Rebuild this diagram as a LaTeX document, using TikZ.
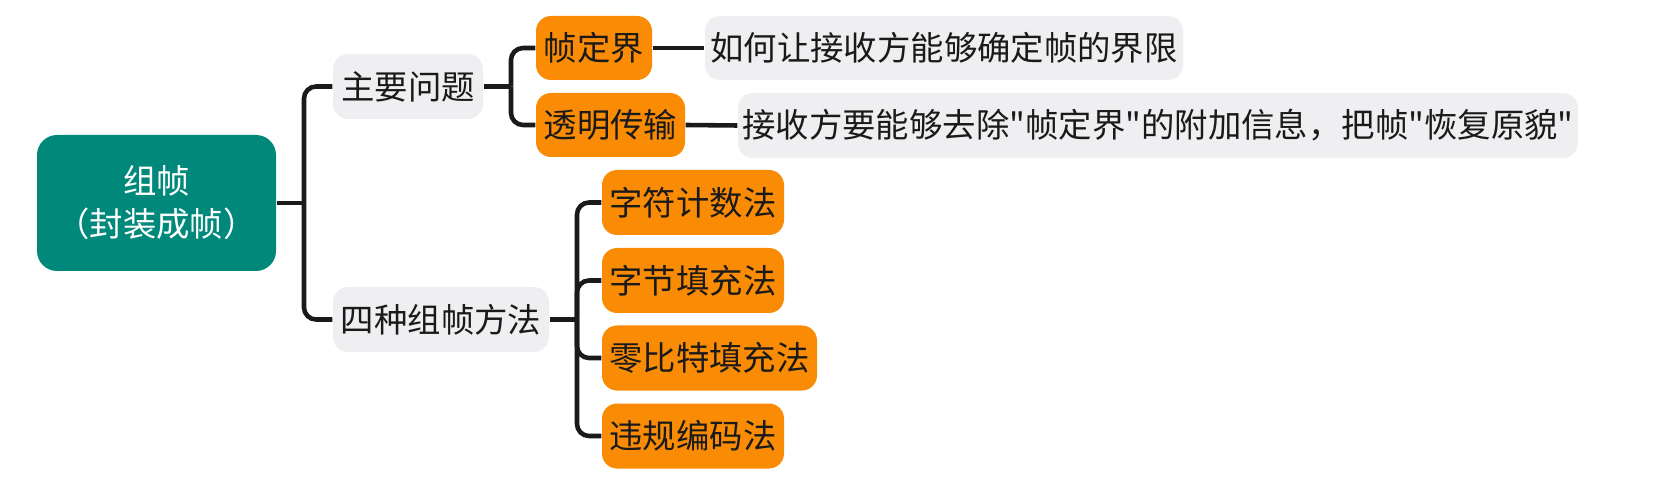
\documentclass[tikz,border=0pt]{standalone}
\usepackage{fontspec}
\setmainfont{Noto Sans CJK SC}[Ligatures=TeXOff]
\definecolor{ink}{HTML}{1A1A1A}
\definecolor{tealbox}{HTML}{00897A}
\definecolor{orangebox}{HTML}{FA8C05}
\definecolor{greybox}{HTML}{EFEEF1}
\begin{document}
\begin{tikzpicture}[thick,
  base/.style={rounded corners=0.3cm,align=center,inner sep=0pt,text=ink,font=\fontsize{19pt}{24.5pt}\selectfont},
  rootbox/.style={base,fill=tealbox,text=white,rounded corners=0.4cm,minimum width=4.78cm,minimum height=2.72cm},
  topic/.style={base,fill=greybox,minimum height=1.3cm},
  itembox/.style={base,fill=orangebox,minimum height=1.28cm},
  link/.style={line width=2.6pt,draw=ink,rounded corners=0.24cm}]
\useasboundingbox (0,0) rectangle (33.26,-9.68);
\node[rootbox] (frame) at (3.13,-4.06) {组帧\\（封装成帧）};
\node[topic,minimum width=3.0cm] (issue) at (8.16,-1.73) {主要问题};
\node[topic,minimum width=4.32cm] (method) at (8.82,-6.39) {四种组帧方法};
\node[itembox,minimum width=2.32cm] (bound) at (11.88,-0.96) {帧定界};
\node[itembox,minimum width=2.98cm] (transp) at (12.21,-2.50) {透明传输};
\node[topic,minimum width=9.56cm,minimum height=1.28cm] (boundnote) at (18.88,-0.96) {如何让接收方能够确定帧的界限};
\node[topic,minimum width=16.8cm] (transpnote) at (23.16,-2.51) {接收方要能够去除"帧定界"的附加信息，把帧"恢复原貌"};
\node[itembox,minimum width=3.64cm,minimum height=1.3cm] (count) at (13.86,-4.05) {字符计数法};
\node[itembox,minimum width=3.64cm,minimum height=1.3cm] (bytefill) at (13.86,-5.61) {字节填充法};
\node[itembox,minimum width=4.30cm,minimum height=1.3cm] (bitfill) at (14.19,-7.16) {零比特填充法};
\node[itembox,minimum width=3.64cm,minimum height=1.3cm] (violate) at (13.86,-8.72) {违规编码法};
% branch points
\coordinate (j0) at (6.08,-4.06);
\coordinate (j1) at (10.22,-1.73);
\coordinate (j2) at (11.54,-6.39);
\draw[link] (frame.east) -- (j0);
\draw[link] (j0) |- (issue.west);
\draw[link] (j0) |- (method.west);
\draw[link] (issue.east) -- (j1);
\draw[link] (j1) |- (bound.west);
\draw[link] (j1) |- (transp.west);
\draw[link] (bound.east) -- (boundnote.west);
\draw[link] (transp.east) -- (transpnote.west);
\draw[link] (method.east) -- (j2);
\foreach \m in {count,bytefill,bitfill,violate}
  \draw[link] (j2) |- (\m.west);
\end{tikzpicture}
\end{document}
